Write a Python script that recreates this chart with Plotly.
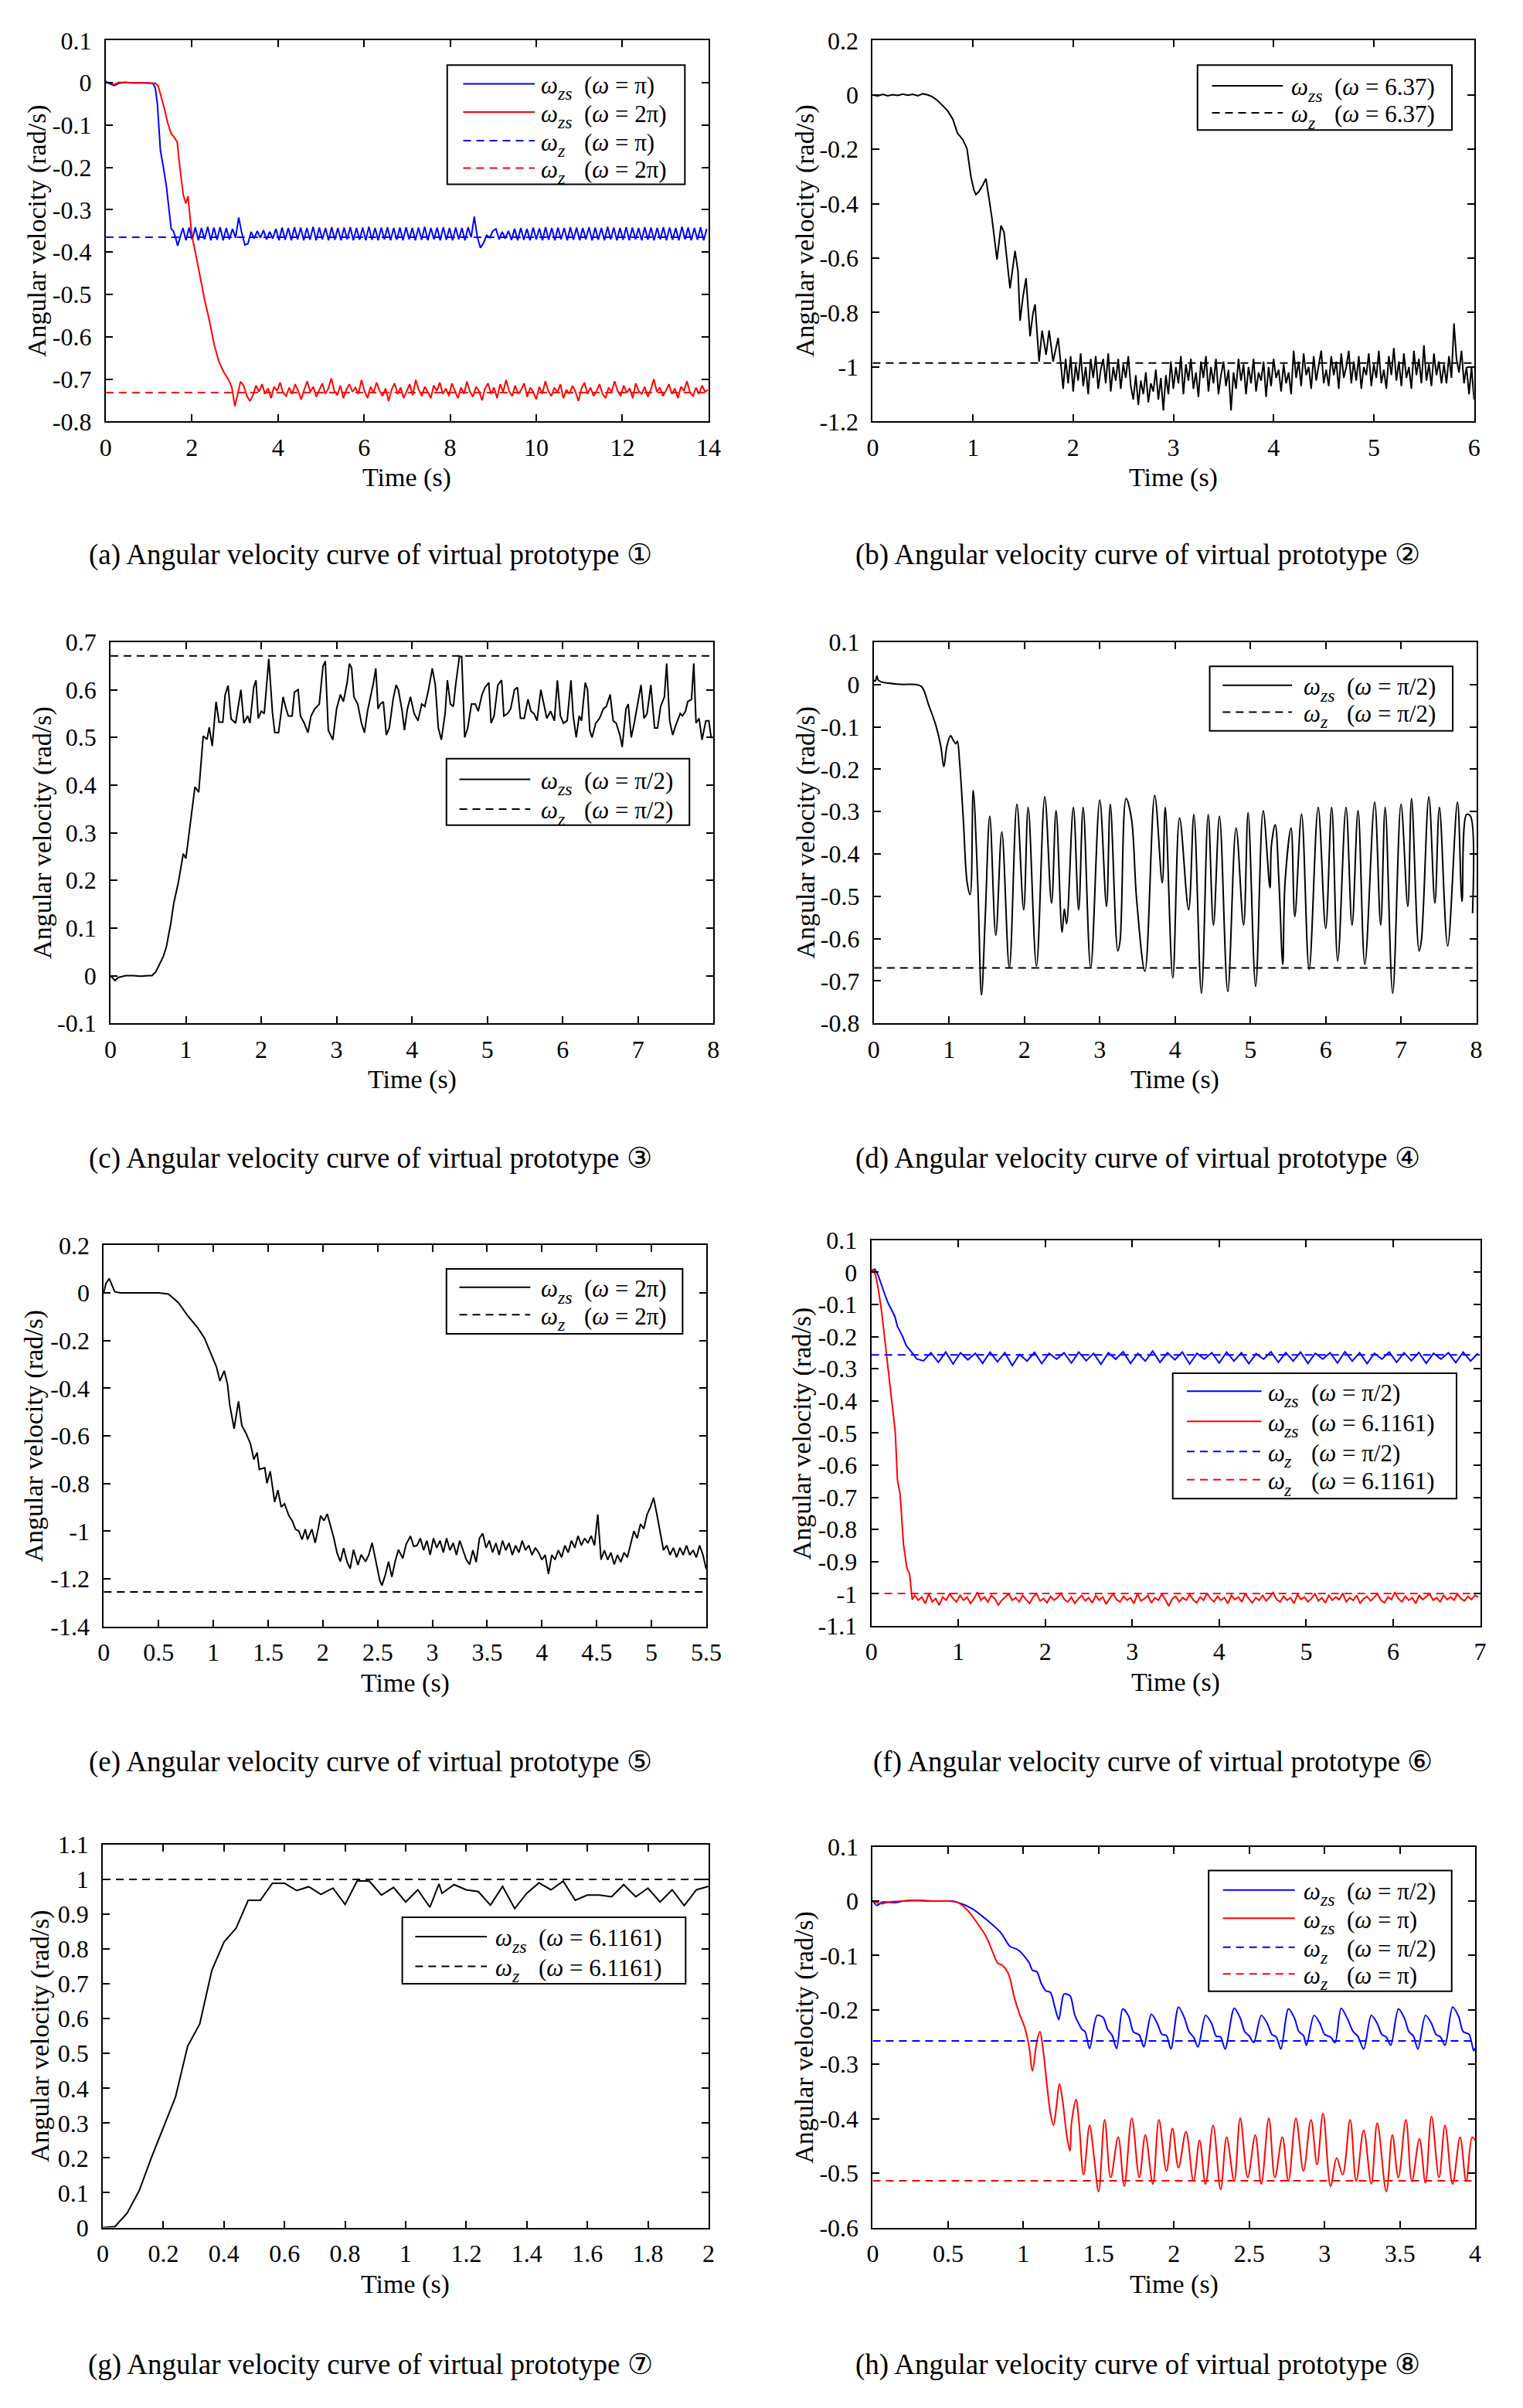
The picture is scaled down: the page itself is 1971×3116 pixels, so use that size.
import plotly.graph_objects as go

W, H = 1971, 3116
SERIF = "Liberation Serif, Times New Roman, serif"
BLUE, RED, BLACK = "#0000FF", "#FF0000", "#000000"

# ======================= DATA =======================
# ---- (a) prototype 1
a_blue_t = [0, 0.1, 0.2, 0.3, 0.45, 0.6, 0.8, 1.0, 1.1, 1.15, 1.2, 1.27, 1.34, 1.41, 1.47, 1.52, 1.57, 1.62, 1.67]
a_blue_v = [0.002, -0.003, -0.007, -0.001, 0.001, 0.0, 0.0, 0.0, -0.002, -0.012, -0.05, -0.16, -0.2, -0.245, -0.30, -0.345, -0.35, -0.365, -0.385]
a_blue_ss_t0, a_blue_ss_dt = 1.72, 0.072
a_blue_ss_v = [
    -0.368, -0.343, -0.372, -0.342, -0.371, -0.341, -0.372, -0.343, -0.370, -0.340,
    -0.372, -0.342, -0.371, -0.341, -0.372, -0.343, -0.370, -0.345, -0.366, -0.318,
    -0.355, -0.383, -0.380, -0.352, -0.368, -0.350, -0.366, -0.348, -0.370, -0.352,
    -0.368, -0.345, -0.372, -0.342, -0.371, -0.343, -0.372, -0.341, -0.370, -0.342,
    -0.372, -0.343, -0.371, -0.340, -0.372, -0.342, -0.370, -0.343, -0.372, -0.341,
    -0.371, -0.343, -0.372, -0.342, -0.370, -0.341, -0.372, -0.343, -0.371, -0.342,
    -0.372, -0.340, -0.371, -0.343, -0.372, -0.342, -0.370, -0.341, -0.372, -0.343,
    -0.371, -0.342, -0.372, -0.341, -0.370, -0.343, -0.372, -0.342, -0.371, -0.340,
    -0.372, -0.343, -0.370, -0.342, -0.372, -0.341, -0.371, -0.343, -0.372, -0.342,
    -0.370, -0.343, -0.372, -0.341, -0.365, -0.316, -0.365, -0.390, -0.378, -0.360,
    -0.366, -0.350, -0.345, -0.370, -0.352, -0.368, -0.350, -0.371, -0.345, -0.372,
    -0.343, -0.371, -0.345, -0.372, -0.342, -0.370, -0.344, -0.372, -0.341, -0.371,
    -0.343, -0.372, -0.342, -0.370, -0.343, -0.372, -0.341, -0.371, -0.342, -0.372,
    -0.343, -0.370, -0.341, -0.372, -0.342, -0.371, -0.343, -0.372, -0.340, -0.370,
    -0.342, -0.372, -0.343, -0.371, -0.341, -0.372, -0.342, -0.370, -0.343, -0.372,
    -0.341, -0.371, -0.342, -0.372, -0.343, -0.370, -0.341, -0.372, -0.342, -0.371,
    -0.343, -0.372, -0.340, -0.370, -0.342, -0.372, -0.343, -0.371, -0.341, -0.372,
    -0.345]
a_red_t = [0, 0.1, 0.2, 0.3, 0.45, 0.6, 0.8, 1.0, 1.15, 1.22,
           1.28, 1.36, 1.44, 1.52, 1.6, 1.66, 1.71, 1.76, 1.8, 1.86,
           1.91, 1.96, 2.0, 2.08, 2.19, 2.3, 2.41, 2.52, 2.63, 2.74,
           2.86, 2.93, 3.0, 3.07, 3.13, 3.2, 3.28]
a_red_v = [0.003, -0.001, -0.004, 0.001, 0.0, 0.0, 0.0, 0.0, -0.001, -0.008,
           -0.03, -0.06, -0.095, -0.12, -0.13, -0.14, -0.19, -0.235, -0.264, -0.285,
           -0.268, -0.32, -0.36, -0.40, -0.458, -0.514, -0.563, -0.619, -0.659, -0.683,
           -0.703, -0.72, -0.764, -0.73, -0.706, -0.715, -0.74]
a_red_ss_t0, a_red_ss_dt = 3.35, 0.07
a_red_ss_v = [
    -0.752, -0.738, -0.715, -0.73, -0.712, -0.735, -0.722, -0.745, -0.718, -0.728,
    -0.708, -0.732, -0.74, -0.72, -0.735, -0.712, -0.728, -0.748, -0.725, -0.705,
    -0.73, -0.718, -0.742, -0.726, -0.71, -0.735, -0.722, -0.698, -0.728, -0.738,
    -0.715, -0.745, -0.725, -0.712, -0.73, -0.72, -0.735, -0.702, -0.728, -0.745,
    -0.718, -0.732, -0.708, -0.728, -0.74, -0.722, -0.752, -0.725, -0.71, -0.735,
    -0.72, -0.745, -0.728, -0.712, -0.738, -0.702, -0.725, -0.74, -0.718, -0.73,
    -0.745, -0.715, -0.728, -0.708, -0.735, -0.722, -0.74, -0.71, -0.728, -0.745,
    -0.72, -0.735, -0.706, -0.73, -0.742, -0.718, -0.728, -0.75, -0.722, -0.71,
    -0.735, -0.72, -0.745, -0.712, -0.73, -0.702, -0.728, -0.74, -0.715, -0.735,
    -0.725, -0.71, -0.742, -0.72, -0.73, -0.748, -0.718, -0.735, -0.705, -0.728,
    -0.74, -0.72, -0.732, -0.712, -0.745, -0.725, -0.735, -0.716, -0.73, -0.752,
    -0.722, -0.708, -0.735, -0.72, -0.74, -0.728, -0.712, -0.735, -0.745, -0.72,
    -0.73, -0.705, -0.728, -0.74, -0.715, -0.732, -0.722, -0.745, -0.71, -0.728,
    -0.735, -0.718, -0.742, -0.725, -0.7, -0.73, -0.72, -0.74, -0.728, -0.712,
    -0.735, -0.722, -0.745, -0.718, -0.728, -0.705, -0.732, -0.74, -0.72, -0.735,
    -0.715, -0.73, -0.725]
a_ref_blue, a_ref_red = -0.365, -0.732
a_xticks = [0, 2, 4, 6, 8, 10, 12, 14]
a_yticks = [0.1, 0, -0.1, -0.2, -0.3, -0.4, -0.5, -0.6, -0.7, -0.8]

# ---- (b) prototype 2
b_t = [0, 0.05, 0.1, 0.15, 0.2, 0.25, 0.3, 0.35, 0.4, 0.45,
       0.5, 0.55, 0.6, 0.65, 0.7, 0.75, 0.8, 0.845, 0.9, 0.94,
       0.98, 1.01, 1.03, 1.06, 1.1, 1.13, 1.16, 1.19, 1.24, 1.28,
       1.31, 1.34, 1.37, 1.42, 1.45, 1.47, 1.5, 1.53, 1.57, 1.6,
       1.62, 1.66, 1.69, 1.73, 1.76, 1.8, 1.85, 1.88]
b_v = [0.0, -0.004, 0.002, -0.003, 0.001, -0.002, 0.003, -0.001, 0.002, -0.003,
       0.004, 0.0, -0.008, -0.022, -0.04, -0.06, -0.09, -0.14, -0.165, -0.197,
       -0.30, -0.35, -0.366, -0.355, -0.33, -0.308, -0.38, -0.454, -0.605, -0.48,
       -0.504, -0.60, -0.711, -0.573, -0.65, -0.83, -0.74, -0.674, -0.887, -0.80,
       -0.77, -0.98, -0.866, -0.955, -0.866, -0.98, -0.893, -1.0]
b_ss_t0, b_ss_dt = 1.9, 0.025
b_ss_v = [
    -1.08, -0.97, -1.06, -0.96, -1.09, -0.99, -1.05, -0.95, -1.07, -1.0,
    -1.1, -0.97, -1.04, -0.96, -1.08, -1.01, -0.97, -1.06, -0.95, -1.09,
    -1.0, -1.05, -0.97, -1.08, -0.99, -1.04, -0.96, -1.07,
    -1.12, -1.03, -1.14, -1.05, -1.1, -1.02, -1.13, -1.06, -1.09, -1.01,
    -1.12, -1.04, -1.16, -1.03, -1.1, -0.98, -1.08, -1.0,
    -1.06, -0.96, -1.1, -0.99, -1.05, -0.97, -1.08, -1.02, -1.11, -0.98,
    -1.04, -0.96, -1.09, -1.0, -1.06, -0.97, -1.1, -1.03, -0.98, -1.07,
    -1.01, -1.16, -1.02, -1.08, -0.97, -1.05, -0.99, -1.1, -1.0, -1.06,
    -0.97, -1.09, -1.02, -1.05, -0.98, -1.11, -1.0, -1.07, -0.97, -1.04,
    -1.01, -1.09, -0.99, -1.06, -1.02, -1.1,
    -0.94, -1.04, -0.98, -1.07, -0.95, -1.03, -1.0, -1.08, -0.96, -1.05,
    -0.99, -0.94, -1.06, -1.01, -1.07, -0.96, -1.03, -0.98, -1.08, -0.95,
    -1.04, -1.0, -0.94, -1.06, -0.98, -1.05, -0.96, -1.08, -1.0, -1.03,
    -0.95, -1.07, -0.99, -1.04, -0.94, -1.06, -1.01, -1.08, -0.96, -1.03,
    -0.93, -1.05, -0.98, -1.07, -0.95, -1.04, -1.0, -1.08, -0.94, -1.03,
    -0.97, -1.06, -0.92, -1.05, -0.99, -1.07, -0.95, -1.03, -0.98, -1.06,
    -0.99, -1.06, -0.96, -1.04,
    -0.84, -0.97, -1.02, -0.94, -1.06, -1.0, -1.1, -1.0, -1.12]
b_ref = -0.985
b_xticks = [0, 1, 2, 3, 4, 5, 6]
b_yticks = [0.2, 0, -0.2, -0.4, -0.6, -0.8, -1, -1.2]

# ---- (c) prototype 3
c_t = [0, 0.03, 0.06, 0.1, 0.15, 0.2, 0.3, 0.4, 0.5, 0.55,
       0.6, 0.65, 0.7, 0.74, 0.8, 0.84, 0.9, 0.965, 1.0, 1.06,
       1.12, 1.17, 1.23, 1.28, 1.31, 1.35, 1.4, 1.44, 1.49, 1.52,
       1.56, 1.6,
       1.66, 1.73, 1.77, 1.82, 1.85, 1.9, 1.93, 1.96, 2.0, 2.04,
       2.1, 2.15, 2.18, 2.23, 2.29, 2.33, 2.36, 2.41, 2.44, 2.49,
       2.52, 2.57, 2.62, 2.66, 2.71, 2.77, 2.82, 2.85, 2.89, 2.95,
       3.0, 3.05, 3.09, 3.14, 3.17, 3.2, 3.23, 3.28, 3.33, 3.37,
       3.41, 3.45, 3.49, 3.52, 3.55, 3.58, 3.62, 3.66, 3.7, 3.75,
       3.79, 3.82, 3.87, 3.9, 3.94, 3.98, 4.03, 4.08, 4.13, 4.17,
       4.22, 4.27, 4.31, 4.35, 4.39, 4.44, 4.47, 4.51, 4.55, 4.58,
       4.63, 4.66, 4.7, 4.74, 4.79, 4.84, 4.88, 4.93, 4.97, 5.02,
       5.05, 5.09, 5.14, 5.19, 5.22, 5.27, 5.31, 5.36, 5.4, 5.44,
       5.49, 5.54, 5.58, 5.62, 5.66, 5.71, 5.76, 5.79, 5.84, 5.89,
       5.93, 5.97, 6.01, 6.06, 6.11, 6.14, 6.18, 6.22, 6.25, 6.3,
       6.33, 6.36, 6.39, 6.44, 6.49, 6.54, 6.58, 6.63, 6.67, 6.71,
       6.76, 6.79, 6.84, 6.87, 6.91, 6.95, 7.0, 7.04, 7.08, 7.12,
       7.17, 7.22, 7.26, 7.3, 7.35, 7.38, 7.42, 7.46, 7.5, 7.56,
       7.59, 7.63, 7.66, 7.71, 7.74, 7.77, 7.81, 7.85, 7.9, 7.94,
       7.97, 8.0]
c_v = [0.0, -0.005, -0.01, -0.004, -0.002, 0.0, 0.0, -0.001, 0.0, 0.0,
       0.008, 0.023, 0.04, 0.06, 0.11, 0.153, 0.196, 0.256, 0.246, 0.321,
       0.396, 0.385, 0.503, 0.496, 0.521, 0.482, 0.575, 0.532, 0.532, 0.589,
       0.609, 0.539,
       0.53, 0.60, 0.53, 0.545, 0.53, 0.605, 0.62, 0.54, 0.555, 0.55,
       0.665, 0.55, 0.51, 0.51, 0.585, 0.56, 0.545, 0.545, 0.595, 0.60,
       0.545, 0.53, 0.51, 0.545, 0.56, 0.57, 0.65, 0.66, 0.515, 0.495,
       0.56, 0.59, 0.575, 0.615, 0.655, 0.645, 0.585, 0.57, 0.53, 0.51,
       0.555, 0.585, 0.615, 0.645, 0.56, 0.57, 0.575, 0.505, 0.52, 0.58,
       0.61, 0.60, 0.555, 0.515, 0.56, 0.585, 0.55, 0.535, 0.57, 0.565,
       0.60, 0.645, 0.61, 0.52, 0.495, 0.55, 0.62, 0.57, 0.565, 0.61,
       0.67, 0.67, 0.50, 0.52, 0.57, 0.57, 0.555, 0.59, 0.605, 0.615,
       0.53, 0.545, 0.61, 0.62, 0.545, 0.55, 0.56, 0.60, 0.605, 0.54,
       0.54, 0.58, 0.555, 0.55, 0.535, 0.60, 0.56, 0.54, 0.555, 0.535,
       0.62, 0.545, 0.53, 0.535, 0.62, 0.545, 0.50, 0.545, 0.535, 0.615,
       0.60, 0.515, 0.50, 0.53, 0.54, 0.56, 0.565, 0.59, 0.535, 0.53,
       0.505, 0.48, 0.56, 0.57, 0.50, 0.53, 0.575, 0.61, 0.54, 0.55,
       0.61, 0.52, 0.52, 0.565, 0.585, 0.655, 0.535, 0.505, 0.525, 0.55,
       0.545, 0.555, 0.575, 0.58, 0.655, 0.53, 0.54, 0.495, 0.535, 0.535,
       0.50, 0.50]
c_ref = 0.671
c_xticks = [0, 1, 2, 3, 4, 5, 6, 7, 8]
c_yticks = [0.7, 0.6, 0.5, 0.4, 0.3, 0.2, 0.1, 0, -0.1]

# ---- (d) prototype 4
d_t = [0, 0.02, 0.04, 0.06, 0.1, 0.2, 0.3, 0.4, 0.55, 0.635,
       0.73, 0.825, 0.89, 0.93, 0.97, 1.02, 1.05, 1.09, 1.11, 1.14,
       1.19, 1.24, 1.28, 1.32, 1.38, 1.43, 1.48, 1.54, 1.62, 1.7,
       1.8, 1.9, 1.99, 2.05, 2.16, 2.27, 2.36, 2.42, 2.5, 2.53,
       2.56, 2.65, 2.72, 2.78, 2.88, 3.0, 3.09, 3.14, 3.24, 3.27,
       3.35, 3.42, 3.49, 3.6, 3.73, 3.83, 3.87, 3.97, 4.06, 4.18,
       4.25, 4.35, 4.44, 4.51, 4.59, 4.7, 4.81, 4.91, 4.97, 5.07,
       5.17, 5.26, 5.28, 5.33, 5.38, 5.43, 5.46, 5.54, 5.59, 5.68,
       5.78, 5.9, 6.0, 6.08, 6.16, 6.27, 6.35, 6.43, 6.52, 6.65,
       6.73, 6.79, 6.89, 7.0, 7.09, 7.14, 7.24, 7.27, 7.37, 7.45,
       7.51, 7.62, 7.75, 7.81, 7.87, 7.92, 7.95]
d_v = [0.01, 0.008, 0.02, 0.01, 0.006, 0.003, 0.001, 0.0, 0.0, -0.005,
       -0.049, -0.097, -0.146, -0.194, -0.146, -0.121, -0.13, -0.14, -0.134, -0.185,
       -0.323, -0.468, -0.496, -0.25, -0.468, -0.733, -0.548, -0.311, -0.592, -0.348,
       -0.669, -0.283, -0.532, -0.29, -0.665, -0.265, -0.516, -0.298, -0.585, -0.53,
       -0.565, -0.29, -0.532, -0.29, -0.669, -0.273, -0.524, -0.283, -0.629, -0.605,
       -0.269, -0.315, -0.508, -0.677, -0.262, -0.468, -0.29, -0.693, -0.315, -0.532,
       -0.307, -0.729, -0.307, -0.568, -0.311, -0.725, -0.339, -0.568, -0.303, -0.713,
       -0.298, -0.48, -0.379, -0.331, -0.468, -0.661, -0.468, -0.339, -0.548, -0.306,
       -0.673, -0.29, -0.576, -0.29, -0.653, -0.29, -0.568, -0.298, -0.661, -0.278,
       -0.568, -0.29, -0.729, -0.283, -0.524, -0.269, -0.629, -0.605, -0.265, -0.516,
       -0.29, -0.617, -0.278, -0.512, -0.307, -0.31, -0.54]
d_ref = -0.669
d_xticks = [0, 1, 2, 3, 4, 5, 6, 7, 8]
d_yticks = [0.1, 0, -0.1, -0.2, -0.3, -0.4, -0.5, -0.6, -0.7, -0.8]

# ---- (e) prototype 5
e_t = [0, 0.02, 0.05, 0.08, 0.1, 0.15, 0.2, 0.3, 0.4, 0.5,
       0.59, 0.68, 0.77, 0.86, 0.92, 0.99, 1.03, 1.06, 1.1, 1.13,
       1.15, 1.19, 1.23, 1.26, 1.3, 1.34, 1.37, 1.4, 1.42, 1.47,
       1.49, 1.52, 1.56, 1.59, 1.62, 1.65, 1.69, 1.72, 1.75, 1.78,
       1.81, 1.84, 1.86, 1.9, 1.93, 1.96, 1.98, 2.01, 2.04, 2.07,
       2.1, 2.13, 2.16, 2.19, 2.22, 2.25, 2.28, 2.32, 2.35, 2.39,
       2.42, 2.45, 2.48, 2.52, 2.54, 2.57, 2.6, 2.63, 2.66, 2.69,
       2.73, 2.76, 2.8, 2.83]
e_v = [0.0, 0.04, 0.06, 0.03, 0.005, 0.0, 0.0, 0.0, 0.0, 0.0,
       -0.005, -0.04, -0.098, -0.148, -0.19, -0.27, -0.312, -0.37, -0.327, -0.384,
       -0.47, -0.57, -0.455, -0.556, -0.591, -0.634, -0.699, -0.67, -0.741, -0.734,
       -0.799, -0.749, -0.878, -0.828, -0.899, -0.885, -0.935, -0.956, -0.992, -0.999,
       -1.035, -0.992, -1.035, -0.992, -1.049, -0.985, -0.935, -0.956, -0.928, -0.978,
       -1.028, -1.092, -1.128, -1.071, -1.128, -1.157, -1.078, -1.142, -1.099, -1.128,
       -1.099, -1.049, -1.114, -1.207, -1.228, -1.185, -1.128, -1.192, -1.128, -1.078,
       -1.114, -1.056, -1.021, -1.064]
e_ss_t0, e_ss_dt = 2.86, 0.03
e_ss_v = [
    -1.06, -1.03, -1.08, -1.04, -1.1, -1.03, -1.07, -1.04, -1.09, -1.03,
    -1.08, -1.05, -1.1, -1.04, -1.08,
    -1.12, -1.14, -1.08, -1.13, -1.03,
    -1.01, -1.07, -1.04, -1.09, -1.05, -1.1, -1.04, -1.08, -1.05, -1.1,
    -1.06, -1.09, -1.04, -1.08, -1.06, -1.1, -1.07, -1.09,
    -1.12, -1.1, -1.18, -1.1, -1.12,
    -1.08, -1.11, -1.06, -1.09, -1.04, -1.07, -1.02, -1.06, -1.03, -1.05,
    -1.02, -1.06,
    -0.93, -1.12, -1.08,
    -1.12, -1.09, -1.14, -1.1, -1.13, -1.09, -1.11,
    -1.05, -1.0, -1.03, -0.97, -0.99, -0.93, -0.9, -0.86, -0.93, -1.01,
    -1.08, -1.06, -1.1, -1.07, -1.11, -1.07, -1.1, -1.06, -1.1, -1.08,
    -1.11, -1.06, -1.1, -1.16]
e_ref = -1.255
e_xticks = [0, 0.5, 1, 1.5, 2, 2.5, 3, 3.5, 4, 4.5, 5, 5.5]
e_yticks = [0.2, 0, -0.2, -0.4, -0.6, -0.8, -1, -1.2, -1.4]

# ---- (f) prototype 6
f_blue_t = [0, 0.04, 0.08, 0.11, 0.15, 0.19, 0.23, 0.27, 0.3, 0.36, 0.4, 0.44, 0.48, 0.52]
f_blue_v = [0.0, 0.01, -0.01, -0.036, -0.065, -0.094, -0.115, -0.137, -0.168, -0.2, -0.227, -0.24, -0.254, -0.269]
f_blue_ss_t0, f_blue_ss_dt = 0.6, 0.085
f_blue_ss_v = [
    -0.275, -0.25, -0.28, -0.248, -0.285, -0.25, -0.272, -0.252, -0.283, -0.248,
    -0.278, -0.25, -0.29, -0.255, -0.276, -0.249, -0.284, -0.252, -0.27, -0.25,
    -0.282, -0.248, -0.275, -0.252, -0.286, -0.25, -0.27, -0.247, -0.283, -0.252,
    -0.276, -0.245, -0.28, -0.25, -0.272, -0.248, -0.285, -0.252, -0.27, -0.25,
    -0.282, -0.248, -0.276, -0.25, -0.284, -0.253, -0.27, -0.247, -0.28, -0.25,
    -0.276, -0.248, -0.283, -0.252, -0.27, -0.25, -0.282, -0.247, -0.276, -0.25,
    -0.284, -0.252, -0.27, -0.248, -0.28, -0.25, -0.275, -0.249, -0.283, -0.252,
    -0.27, -0.25, -0.281, -0.248, -0.276, -0.252]
f_red_t = [0, 0.02, 0.05, 0.08, 0.12, 0.165, 0.22, 0.275, 0.3, 0.33, 0.37, 0.41, 0.44, 0.47]
f_red_v = [0.0, 0.01, -0.01, -0.052, -0.126, -0.232, -0.359, -0.497, -0.646, -0.688, -0.847, -0.922, -0.938, -1.018]
f_red_ss_t0, f_red_ss_dt = 0.5, 0.04
f_red_ss_v = [
    -1.005, -1.02, -1.01, -1.03, -1.0, -1.025, -1.015, -1.035, -1.01, -1.02,
    -1.0, -1.015, -1.025, -1.005, -1.02, -1.01, -1.03, -1.015, -0.995, -1.02,
    -1.01, -1.025, -1.005, -1.015, -1.035, -1.02, -1.01, -1.0, -1.02, -1.012,
    -1.025, -1.005, -1.018, -1.03, -1.01, -1.0, -1.022, -1.015, -1.028, -1.008,
    -1.02, -1.012, -0.998, -1.018, -1.025, -1.01, -1.03, -1.015, -1.005, -1.022,
    -1.012, -1.028, -1.005, -1.02, -1.01, -1.032, -1.015, -1.0, -1.018, -1.025,
    -1.008, -1.02, -1.012, -1.03, -1.0, -1.022, -1.015, -1.005, -1.028, -1.012,
    -1.02, -1.0, -1.018, -1.038, -1.015, -1.008, -1.025, -1.012, -1.02, -1.002,
    -1.018, -1.028, -1.01, -1.02, -0.998, -1.015, -1.025, -1.008, -1.02, -1.012,
    -1.03, -1.005, -1.018, -1.01, -1.025, -1.0, -1.015, -1.028, -1.012, -1.02,
    -1.005, -1.022, -1.01, -0.996, -1.018, -1.025, -1.008, -1.02, -1.012, -1.03,
    -1.002, -1.018, -1.01, -1.025, -1.015, -1.0, -1.022, -1.012, -1.028, -1.005,
    -1.02, -1.01, -1.018, -0.998, -1.025, -1.012, -1.02, -1.005, -1.03, -1.015,
    -1.008, -1.022, -1.012, -1.0, -1.02, -1.028, -1.01, -1.018, -0.995, -1.015,
    -1.025, -1.008, -1.02, -1.012, -1.03, -1.005, -1.018, -1.01, -1.0, -1.02,
    -1.012, -1.025, -1.005, -1.018, -1.01, -1.02, -1.0, -1.015, -1.022, -1.008,
    -1.018, -1.005, -1.01]
f_ref_blue, f_ref_red = -0.257, -0.999
f_xticks = [0, 1, 2, 3, 4, 5, 6, 7]
f_yticks = [0.1, 0, -0.1, -0.2, -0.3, -0.4, -0.5, -0.6, -0.7, -0.8, -0.9, -1, -1.1]

# ---- (g) prototype 7
g_t = [0, 0.04, 0.08, 0.12, 0.16, 0.2, 0.24, 0.28, 0.32, 0.36,
       0.4, 0.44, 0.48, 0.52, 0.56, 0.6, 0.64, 0.68, 0.72, 0.76,
       0.8, 0.84, 0.88, 0.92, 0.96, 1.0, 1.04, 1.08, 1.11, 1.12,
       1.16, 1.2, 1.24, 1.28, 1.32, 1.36, 1.4, 1.44, 1.48, 1.52,
       1.56, 1.6, 1.64, 1.68, 1.72, 1.76, 1.8, 1.84, 1.88, 1.92,
       1.96, 2.0]
g_v = [0, 0.003, 0.041, 0.106, 0.2, 0.289, 0.375, 0.521, 0.585, 0.739,
       0.82, 0.86, 0.94, 0.94, 0.989, 0.989, 0.968, 0.979, 0.957, 0.975,
       0.928, 0.996, 0.995, 0.955, 0.977, 0.935, 0.97, 0.92, 0.987, 0.96,
       0.985, 0.97, 0.965, 0.926, 0.98, 0.916, 0.96, 0.99, 0.97, 0.995,
       0.94, 0.955, 0.955, 0.95, 0.985, 0.95, 0.975, 0.935, 0.97, 0.925,
       0.97, 0.98]
g_ref = 1.0
g_xticks = [0, 0.2, 0.4, 0.6, 0.8, 1, 1.2, 1.4, 1.6, 1.8, 2]
g_yticks = [0, 0.1, 0.2, 0.3, 0.4, 0.5, 0.6, 0.7, 0.8, 0.9, 1, 1.1]

# ---- (h) prototype 8
h_blue_t = [0, 0.03, 0.06, 0.1, 0.15, 0.2, 0.25, 0.3, 0.4, 0.5,
            0.56, 0.66, 0.75, 0.85, 0.91, 0.96, 0.99, 1.04, 1.06, 1.09,
            1.12, 1.15, 1.18, 1.21, 1.235, 1.25, 1.27, 1.31, 1.34, 1.36,
            1.39, 1.41, 1.44, 1.49, 1.53, 1.56, 1.59, 1.62, 1.66, 1.70,
            1.73, 1.77, 1.80, 1.85, 1.89, 1.92, 1.95, 1.98, 2.03, 2.07,
            2.10, 2.13, 2.16, 2.21, 2.25, 2.28, 2.31, 2.34, 2.40, 2.44,
            2.47, 2.50, 2.53, 2.58, 2.62, 2.65, 2.68, 2.71, 2.76, 2.80,
            2.83, 2.86, 2.88, 2.93, 2.97, 3.00, 3.04, 3.07, 3.11, 3.15,
            3.19, 3.22, 3.26, 3.31, 3.35, 3.38, 3.41, 3.44, 3.49, 3.53,
            3.56, 3.59, 3.62, 3.67, 3.71, 3.74, 3.77, 3.80, 3.85, 3.89,
            3.92, 3.96, 3.99, 4.0]
h_blue_v = [0.0, -0.008, -0.002, -0.002, -0.003, 0.0, 0.001, 0.001, 0.0, 0.0,
            -0.002, -0.014, -0.033, -0.058, -0.083, -0.089, -0.096, -0.114, -0.127, -0.13,
            -0.152, -0.165, -0.168, -0.196, -0.218, -0.196, -0.171, -0.174, -0.208, -0.221,
            -0.236, -0.24, -0.271, -0.21, -0.214, -0.236, -0.247, -0.271, -0.198, -0.212,
            -0.24, -0.246, -0.268, -0.208, -0.225, -0.245, -0.247, -0.272, -0.195, -0.215,
            -0.24, -0.25, -0.268, -0.21, -0.225, -0.248, -0.25, -0.272, -0.197, -0.215,
            -0.24, -0.248, -0.26, -0.21, -0.225, -0.245, -0.25, -0.272, -0.198, -0.215,
            -0.24, -0.247, -0.265, -0.21, -0.225, -0.245, -0.25, -0.26, -0.197, -0.215,
            -0.24, -0.248, -0.272, -0.21, -0.225, -0.245, -0.25, -0.265, -0.198, -0.215,
            -0.24, -0.248, -0.272, -0.21, -0.225, -0.245, -0.25, -0.265, -0.195, -0.212,
            -0.24, -0.245, -0.275, -0.27]
h_red_t = [0, 0.03, 0.06, 0.1, 0.2, 0.3, 0.4, 0.5, 0.56, 0.63,
           0.69, 0.75, 0.8, 0.83, 0.86, 0.9, 0.94, 0.975, 1.01, 1.04,
           1.06, 1.09, 1.11, 1.13, 1.16, 1.18, 1.2, 1.22, 1.24, 1.26,
           1.29, 1.31, 1.32, 1.35, 1.37, 1.4, 1.44, 1.47, 1.5, 1.54,
           1.58, 1.63, 1.67, 1.72, 1.77, 1.81, 1.86, 1.9, 1.95, 1.99,
           2.03, 2.08, 2.13, 2.17, 2.21, 2.26, 2.31, 2.35, 2.4, 2.44,
           2.49, 2.54, 2.58, 2.63, 2.67, 2.72, 2.76, 2.81, 2.86, 2.91,
           2.95, 2.99, 3.04, 3.08, 3.12, 3.17, 3.21, 3.26, 3.31, 3.35,
           3.41, 3.45, 3.49, 3.54, 3.58, 3.63, 3.67, 3.71, 3.76, 3.8,
           3.85, 3.9, 3.94, 3.98, 4.0]
h_red_v = [0.0, -0.003, -0.005, -0.002, 0.0, 0.001, 0.0, 0.0, -0.002, -0.017,
           -0.039, -0.064, -0.096, -0.114, -0.118, -0.133, -0.177, -0.208, -0.233, -0.271,
           -0.312, -0.258, -0.24, -0.271, -0.346, -0.39, -0.412, -0.377, -0.336, -0.365,
           -0.434, -0.459, -0.408, -0.365, -0.408, -0.503, -0.412, -0.472, -0.534, -0.402,
           -0.508, -0.434, -0.524, -0.399, -0.508, -0.43, -0.52, -0.402, -0.496, -0.418,
           -0.49, -0.424, -0.515, -0.44, -0.52, -0.412, -0.53, -0.434, -0.515, -0.399,
           -0.508, -0.43, -0.52, -0.399, -0.508, -0.434, -0.515, -0.399, -0.496, -0.402,
           -0.484, -0.39, -0.524, -0.472, -0.503, -0.402, -0.515, -0.421, -0.52, -0.408,
           -0.534, -0.43, -0.508, -0.402, -0.515, -0.437, -0.518, -0.396, -0.508, -0.412,
           -0.52, -0.434, -0.515, -0.434, -0.44]
h_ref_blue, h_ref_red = -0.257, -0.514
h_xticks = [0, 0.5, 1, 1.5, 2, 2.5, 3, 3.5, 4]
h_yticks = [0.1, 0, -0.1, -0.2, -0.3, -0.4, -0.5, -0.6]

captions = [
    "(a) Angular velocity curve of virtual prototype \u2460",
    "(b) Angular velocity curve of virtual prototype \u2461",
    "(c) Angular velocity curve of virtual prototype \u2462",
    "(d) Angular velocity curve of virtual prototype \u2463",
    "(e) Angular velocity curve of virtual prototype \u2464",
    "(f) Angular velocity curve of virtual prototype \u2465",
    "(g) Angular velocity curve of virtual prototype \u2466",
    "(h) Angular velocity curve of virtual prototype \u2467",
]
Y_TITLE = "Angular velocity (rad/s)"
X_TITLE = "Time (s)"


# ======================= HELPERS =======================
def uniform(t0, dt, vals):
    return [round(t0 + dt * i, 4) for i in range(len(vals))]


def join(t1, v1, t0, dt, v2):
    return list(t1) + uniform(t0, dt, v2), list(v1) + list(v2)


for t, v in [(a_blue_t, a_blue_v), (a_red_t, a_red_v), (b_t, b_v), (c_t, c_v), (d_t, d_v),
             (e_t, e_v), (f_blue_t, f_blue_v), (f_red_t, f_red_v), (g_t, g_v),
             (h_blue_t, h_blue_v), (h_red_t, h_red_v)]:
    assert len(t) == len(v), (len(t), len(v))

DASH = "10px,7px"
a_bt, a_bv = join(a_blue_t, a_blue_v, a_blue_ss_t0, a_blue_ss_dt, a_blue_ss_v)
a_rt, a_rv = join(a_red_t, a_red_v, a_red_ss_t0, a_red_ss_dt, a_red_ss_v)
b_ft, b_fv = join(b_t, b_v, b_ss_t0, b_ss_dt, b_ss_v)
e_ft, e_fv = join(e_t, e_v, e_ss_t0, e_ss_dt, e_ss_v)
f_bt, f_bv = join(f_blue_t, f_blue_v, f_blue_ss_t0, f_blue_ss_dt, f_blue_ss_v)
f_rt, f_rv = join(f_red_t, f_red_v, f_red_ss_t0, f_red_ss_dt, f_red_ss_v)

PI = "\u03c0"
# legend entries: (subscript, omega value, colour, dash)
panels = [
    dict(curves=[(a_bt, a_bv, BLUE, "linear", 0), (a_rt, a_rv, RED, "linear", 0)],
         refs=[(a_ref_blue, BLUE), (a_ref_red, RED)], xr=14, yr=(-0.8, 0.1),
         xt=a_xticks, yt=a_yticks,
         leg=[("zs", PI, BLUE, None), ("zs", "2" + PI, RED, None),
              ("z", PI, BLUE, DASH), ("z", "2" + PI, RED, DASH)]),
    dict(curves=[(b_ft, b_fv, BLACK, "linear", 0)], refs=[(b_ref, BLACK)], xr=6, yr=(-1.2, 0.2),
         xt=b_xticks, yt=b_yticks,
         leg=[("zs", "6.37", BLACK, None), ("z", "6.37", BLACK, DASH)]),
    dict(curves=[(c_t, c_v, BLACK, "linear", 0)], refs=[(c_ref, BLACK)], xr=8, yr=(-0.1, 0.7),
         xt=c_xticks, yt=c_yticks,
         leg=[("zs", PI + "/2", BLACK, None), ("z", PI + "/2", BLACK, DASH)]),
    dict(curves=[(d_t, d_v, BLACK, "spline", 1.0)], refs=[(d_ref, BLACK)], xr=8, yr=(-0.8, 0.1),
         xt=d_xticks, yt=d_yticks,
         leg=[("zs", PI + "/2", BLACK, None), ("z", PI + "/2", BLACK, DASH)]),
    dict(curves=[(e_ft, e_fv, BLACK, "linear", 0)], refs=[(e_ref, BLACK)], xr=5.5, yr=(-1.4, 0.2),
         xt=e_xticks, yt=e_yticks,
         leg=[("zs", "2" + PI, BLACK, None), ("z", "2" + PI, BLACK, DASH)]),
    dict(curves=[(f_bt, f_bv, BLUE, "linear", 0), (f_rt, f_rv, RED, "linear", 0)],
         refs=[(f_ref_blue, BLUE), (f_ref_red, RED)], xr=7, yr=(-1.1, 0.1),
         xt=f_xticks, yt=f_yticks,
         leg=[("zs", PI + "/2", BLUE, None), ("zs", "6.1161", RED, None),
              ("z", PI + "/2", BLUE, DASH), ("z", "6.1161", RED, DASH)]),
    dict(curves=[(g_t, g_v, BLACK, "linear", 0)], refs=[(g_ref, BLACK)], xr=2, yr=(0, 1.1),
         xt=g_xticks, yt=g_yticks,
         leg=[("zs", "6.1161", BLACK, None), ("z", "6.1161", BLACK, DASH)]),
    dict(curves=[(h_blue_t, h_blue_v, BLUE, "spline", 0.8), (h_red_t, h_red_v, RED, "spline", 1.0)],
         refs=[(h_ref_blue, BLUE), (h_ref_red, RED)], xr=4, yr=(-0.6, 0.1),
         xt=h_xticks, yt=h_yticks,
         leg=[("zs", PI + "/2", BLUE, None), ("zs", PI, RED, None),
              ("z", PI + "/2", BLUE, DASH), ("z", PI, RED, DASH)]),
]

# ======================= LAYOUT (pixel geometry) =======================
boxes = [(130.7, 34.8, 922, 533.5), (1137.6, 34.8, 1927, 533.5),
         (137, 822.4, 928.4, 1321.5), (1139, 822.4, 1930, 1321.5),
         (128.1, 1612, 919, 2111), (1135.8, 1605.4, 1935, 2110.4),
         (126.9, 2396.6, 922, 2898), (1137.6, 2399.3, 1928.5, 2898)]
legboxes = [
    dict(box=(579, 67, 891, 223), ys=[91.5, 128.6, 166, 201.8], lx=(600, 694), tx=700),
    dict(box=(1564, 67, 1898, 152), ys=[94, 129.5], lx=(1583, 1676), tx=1685),
    dict(box=(578, 975, 897, 1062), ys=[1002, 1041], lx=(595, 688), tx=700),
    dict(box=(1580, 854, 1899, 938.5), ys=[879, 914], lx=(1597, 1688), tx=1701),
    dict(box=(578, 1643, 888, 1728), ys=[1667, 1703], lx=(595, 688), tx=700),
    dict(box=(1531.5, 1779.6, 1904, 1943.8), ys=[1803, 1842.5, 1882, 1919], lx=(1550, 1648), tx=1654),
    dict(box=(520, 2491.7, 892, 2578.8), ys=[2517, 2556], lx=(537, 631), tx=640),
    dict(box=(1578.6, 2430.5, 1897.7, 2588.6), ys=[2456, 2493, 2531, 2566], lx=(1597.4, 1691.7), tx=1701),
]
ytitle_off = [90, 88.6, 90, 90, 92, 91, 83, 90]
cap_pos = [(478, 708), (1486, 708), (478, 1498), (1486, 1498),
           (478, 2288), (1505, 2288), (478, 3078), (1486, 3078)]

TICK_FONT = dict(family=SERIF, size=32, color="black")
TITLE_FONT = dict(family=SERIF, size=34, color="black")
CAP_FONT = dict(family=SERIF, size=37, color="black")
LEG_FONT = dict(family=SERIF, size=31, color="black")
SUB_FONT = dict(family=SERIF, size=24, color="black")


def px(x):
    return x / W


def py(y):
    return 1 - y / H


fig = go.Figure()
shapes, annos = [], []
layout = dict(width=W, height=H, margin=dict(l=0, r=0, t=0, b=0),
              font=dict(family=SERIF, size=32, color="black"),
              paper_bgcolor="white", plot_bgcolor="white", showlegend=False)


def note(text, x, y, font, xanchor="left", angle=0):
    annos.append(dict(text=text, x=px(x), y=py(y), xref="paper", yref="paper",
                      xanchor=xanchor, yanchor="middle", showarrow=False,
                      textangle=angle, font=font))


for i, (p, bx) in enumerate(zip(panels, boxes)):
    n = i + 1
    xa = "x" if n == 1 else f"x{n}"
    ya = "y" if n == 1 else f"y{n}"
    for (x, y, col, shape, sm) in p["curves"]:
        line = dict(color=col, width=2, shape=shape)
        if shape == "spline":
            line["smoothing"] = sm
        fig.add_trace(go.Scatter(x=x, y=y, mode="lines", xaxis=xa, yaxis=ya,
                                 line=line, hoverinfo="skip"))
    for (ref, col) in p["refs"]:
        fig.add_trace(go.Scatter(x=[0, p["xr"]], y=[ref, ref], mode="lines", xaxis=xa, yaxis=ya,
                                 line=dict(color=col, width=2, dash=DASH), hoverinfo="skip"))
    l, t, r, b = bx
    common = dict(showline=True, linecolor="black", linewidth=2, mirror="ticks",
                  ticks="inside", ticklen=9, tickwidth=2, tickcolor="black",
                  showgrid=False, zeroline=False, tickfont=TICK_FONT)
    layout["xaxis" if n == 1 else f"xaxis{n}"] = dict(
        domain=[px(l), px(r)], range=[0, p["xr"]], anchor=ya,
        tickvals=p["xt"], ticktext=[f"{v:g}" for v in p["xt"]], ticklabelstandoff=4, **common)
    layout["yaxis" if n == 1 else f"yaxis{n}"] = dict(
        domain=[py(b), py(t)], range=list(p["yr"]), anchor=xa,
        tickvals=p["yt"], ticktext=[f"{v:g}" for v in p["yt"]], ticklabelstandoff=10, **common)

    # axis titles and caption
    note(X_TITLE, (l + r) / 2, b + 74, TITLE_FONT, xanchor="center")
    note(Y_TITLE, l - ytitle_off[i], (t + b) / 2, TITLE_FONT, xanchor="center", angle=-90)
    cx, cy = cap_pos[i]
    note(captions[i], cx, cy, CAP_FONT, xanchor="center")

    # legend box, samples and labels
    lg = legboxes[i]
    x0, y0, x1, y1 = lg["box"]
    shapes.append(dict(type="rect", xref="paper", yref="paper", x0=px(x0), x1=px(x1),
                       y0=py(y1), y1=py(y0), line=dict(color="black", width=2),
                       fillcolor="white", layer="above"))
    for (sub, wv, col, dash), yy in zip(p["leg"], lg["ys"]):
        shapes.append(dict(type="line", xref="paper", yref="paper", x0=px(lg["lx"][0]), x1=px(lg["lx"][1]),
                           y0=py(yy), y1=py(yy), line=dict(color=col, width=2, dash=dash or "solid"),
                           layer="above"))
        tx = lg["tx"]
        note("<i>\u03c9</i>", tx, yy + 2, LEG_FONT)
        note(f"<i>{sub}</i>", tx + 21, yy + 13, SUB_FONT)
        note(f"(<i>\u03c9</i> = {wv})", tx + 57, yy + 2, LEG_FONT)

layout["shapes"] = shapes
layout["annotations"] = annos
fig.update_layout(**layout)
fig.write_html("out.html", config={"displayModeBar": False},
               post_script="document.body.style.margin='0px';")
